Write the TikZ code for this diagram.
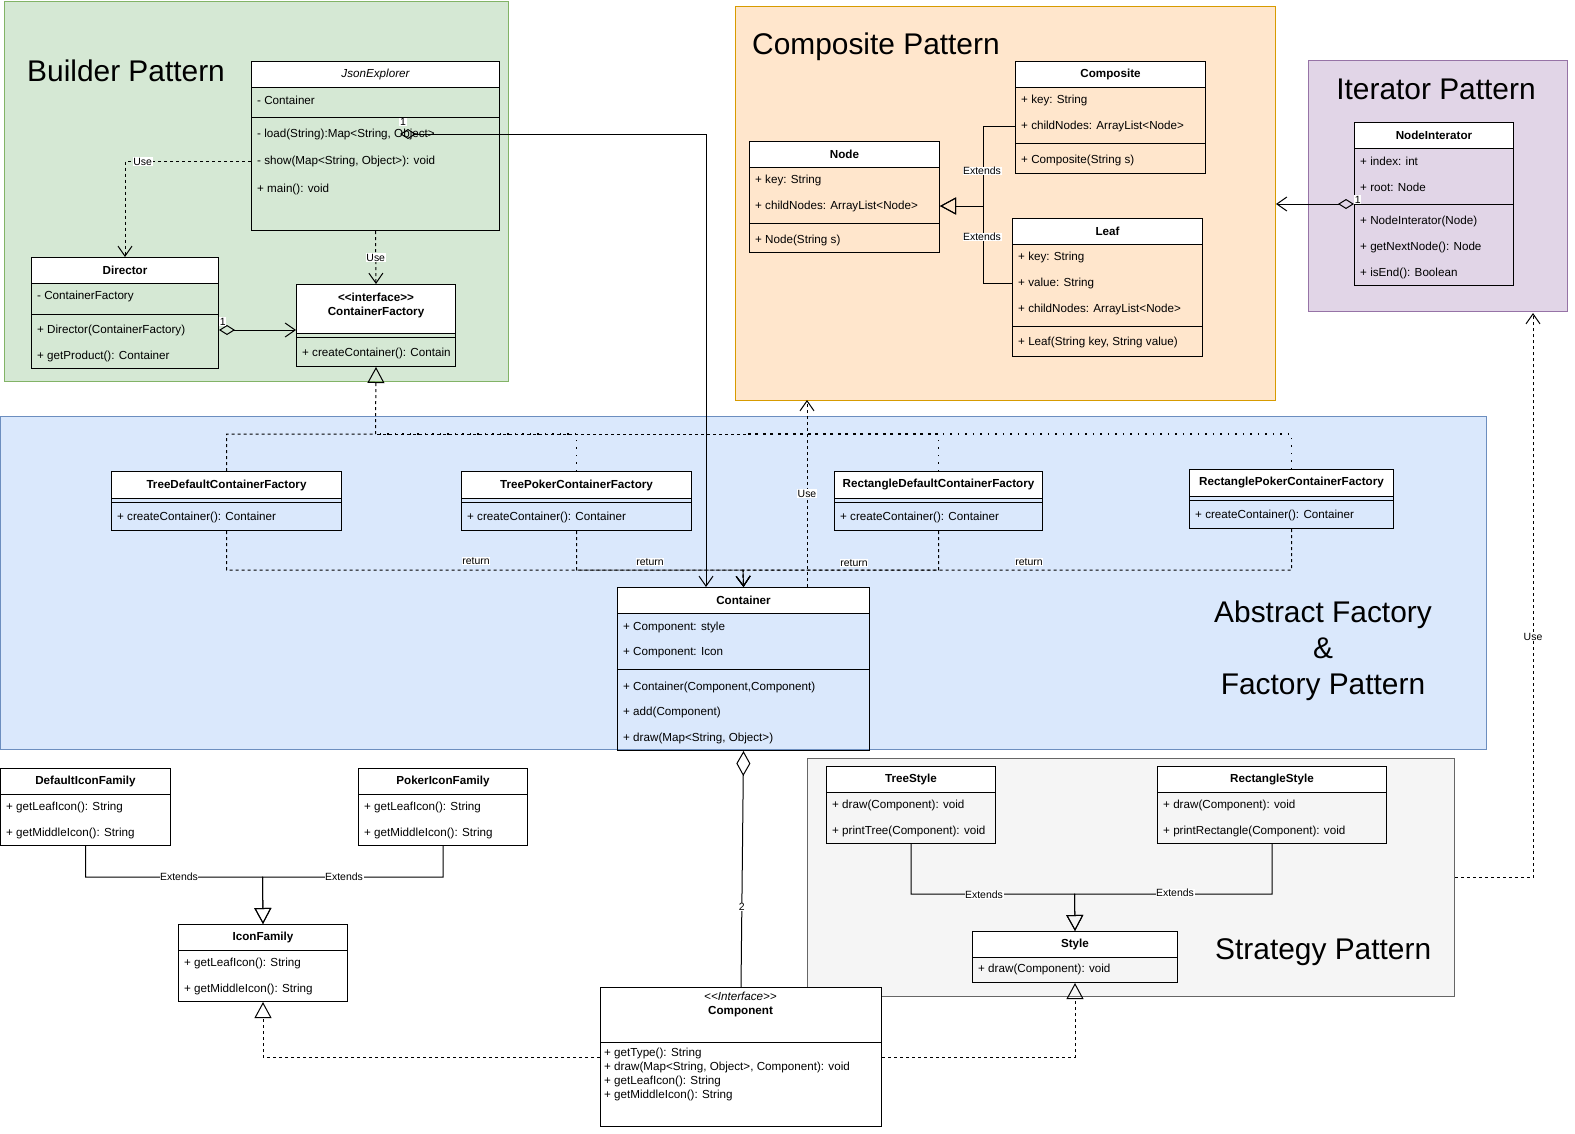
\documentclass[tikz,border=0pt]{standalone}
\usepackage{fontspec}
\setmainfont{Liberation Sans}
\usetikzlibrary{
		arrows.meta,
		positioning,
		calc
	}
\definecolor{buildfill}{HTML}{D5E8D4}	\definecolor{buildline}{HTML}{82B366}
\definecolor{compfill}{HTML}{FFE6CC}	\definecolor{compline}{HTML}{D79B00}
\definecolor{iterfill}{HTML}{E1D5E7}	\definecolor{iterline}{HTML}{9673A6}
\definecolor{factfill}{HTML}{DAE8FC}	\definecolor{factline}{HTML}{6C8EBF}
\definecolor{stratfill}{HTML}{F5F5F5}	\definecolor{stratline}{HTML}{666666}
\tikzset{
		every node/.style={font=\fontsize{11.7}{14}\selectfont},
		grp/.style={draw, line width=1bp, anchor=north west, inner sep=0pt},
		cls/.style={draw, line width=1bp, anchor=north west, inner sep=0pt},
		head/.style={draw, fill=white, line width=1bp, anchor=north west, inner sep=0pt, align=center, font=\fontsize{11.7}{14}\selectfont\bfseries},
		row/.style={anchor=west, inner sep=0pt},
		title/.style={inner sep=0pt, font=\fontsize{30}{36}\selectfont},
		lbl/.style={fill=white, inner sep=0.6pt, font=\fontsize{10.5}{12}\selectfont},
		link/.style={line width=1bp},
		use/.style={link, dash pattern=on 3bp off 3bp, -{Straight Barb[length=10bp,width=14bp]}},
		ret/.style={use},
		joinline/.style={link, dash pattern=on 3bp off 3bp},
		realize/.style={link, dash pattern=on 3bp off 3bp, -{Triangle[open,length=16bp,width=17bp]}},
		realdot/.style={line width=1.5bp, dash pattern=on 1.5bp off 6bp},
		ext/.style={link, -{Triangle[open,length=16bp,width=17bp]}},
		agg/.style={link, {Diamond[open,length=16bp,width=10bp]}-{Straight Barb[length=10bp,width=14bp]}},
		whole/.style={link, {Diamond[open,length=25bp,width=14bp]}-}
	}
% class box: [header height] name, corner, width, height, title
\newcommand{\umlclass}[6][26]{%
	\node[cls, minimum width=#4bp, minimum height=#5bp] (#2) at (#3) {};
	\node[head, minimum width=#4bp, minimum height=#1bp] (#2-h) at (#2.north west) {#6};
}
% member rows: prefix, x, first y, step, list
\newcommand{\classrows}[5]{%
	\foreach \rowtext [count=\i] in {#5} {
		\node[row] (#1\i) at ({#2},{#3+#4*(\i-1)}) {\rowtext};
	}
}

\begin{document}
\begin{tikzpicture}[x=1bp,y=-1bp]
		\useasboundingbox (0,0) rectangle (1575,1133);
		% Groups
		\node[grp, fill=buildfill, draw=buildline, minimum width=504bp, minimum height=380bp] (bgrp) at (4,0.5) {};
		\node[grp, fill=compfill, draw=compline, minimum width=540bp, minimum height=394bp] (cgrp) at (735,6) {};
		\node[grp, fill=iterfill, draw=iterline, minimum width=259bp, minimum height=251bp] (igrp) at (1308,60) {};
		\node[grp, fill=factfill, draw=factline, minimum width=1485.5bp, minimum height=333bp] (agrp) at (0.5,416) {};
		\node[grp, fill=stratfill, draw=stratline, minimum width=647bp, minimum height=238bp] (sgrp) at (807,758) {};
		% Titles
		\node[title, anchor=west] (bttl) at (27,71) {Builder Pattern};
		\node[title, anchor=west] (cttl) at (752,47) {Composite Pattern};
		\node[title] (ittl) at (1436,89) {Iterator Pattern};
		\node[title, align=center] (attl) at (1323,651) {Abstract Factory\\\&\\Factory Pattern};
		\node[title, anchor=west] (sttl) at (1215,952) {Strategy Pattern};
		% Builder classes
		\umlclass{je}{251,61}{248}{169}{{\mdseries\itshape JsonExplorer}}
		\draw[link] (251,117) -- ++(248,0);
		\classrows{je-a}{257}{100}{26}{{- Container}}
		\classrows{je-m}{257}{134}{27.5}{{- load(String):Map<String, Object>},{- show(Map<String, Object>): void},{+ main(): void}}
		\umlclass{dir}{31,257}{187}{111}{Director}
		\draw[link] (31,314) -- ++(187,0);
		\classrows{dir-a}{37}{296}{26}{{- ContainerFactory}}
		\classrows{dir-m}{37}{330}{26}{{+ Director(ContainerFactory)},{+ getProduct(): Container}}
		\umlclass[49]{cf}{296,284}{159}{82}{<\kern0pt<interface>\kern0pt>\\ContainerFactory\\[-5pt]}
		\draw[link] (296,337) -- ++(159,0);
		\classrows{cf-m}{302}{353}{26}{{+ createContainer(): Contain}}
		% Composite classes
		\umlclass{nd}{749,141}{190}{111}{Node}
		\draw[link] (749,223) -- ++(190,0);
		\classrows{nd-a}{755}{180}{26}{{+ key: String},{+ childNodes: ArrayList<Node>}}
		\classrows{nd-m}{755}{240}{26}{{+ Node(String s)}}
		\umlclass{comp}{1015,61}{190}{112}{Composite}
		\draw[link] (1015,143) -- ++(190,0);
		\classrows{comp-a}{1021}{100}{26}{{+ key: String},{+ childNodes: ArrayList<Node>}}
		\classrows{comp-m}{1021}{160}{26}{{+ Composite(String s)}}
		\umlclass{leaf}{1012,218}{190}{138}{Leaf}
		\draw[link] (1012,326) -- ++(190,0);
		\classrows{leaf-a}{1018}{257}{26}{{+ key: String},{+ value: String},{+ childNodes: ArrayList<Node>}}
		\classrows{leaf-m}{1018}{342}{26}{{+ Leaf(String key, String value)}}
		% Iterator class
		\umlclass{ni}{1354,122}{159}{163}{NodeInterator}
		\draw[link] (1354,204) -- ++(159,0);
		\classrows{ni-a}{1360}{161}{26}{{+ index: int},{+ root: Node}}
		\classrows{ni-m}{1360}{221}{26}{{+ NodeInterator(Node)},{+ getNextNode(): Node},{+ isEnd(): Boolean}}
		% Factories
		\umlclass[27]{tdcf}{111,471}{230}{59}{TreeDefaultContainerFactory}
		\draw[link] (111,502) -- ++(230,0);
		\classrows{tdcf-m}{117}{517}{26}{{+ createContainer(): Container}}
		\umlclass[27]{tpcf}{461,471}{230}{59}{TreePokerContainerFactory}
		\draw[link] (461,502) -- ++(230,0);
		\classrows{tpcf-m}{467}{517}{26}{{+ createContainer(): Container}}
		\umlclass[27]{rdcf}{834,471}{208}{59}{RectangleDefaultContainerFactory}
		\draw[link] (834,502) -- ++(208,0);
		\classrows{rdcf-m}{840}{517}{26}{{+ createContainer(): Container}}
		\umlclass[27]{rpcf}{1189,469}{204}{59}{RectanglePokerContainerFactory}
		\draw[link] (1189,500) -- ++(204,0);
		\classrows{rpcf-m}{1195}{515}{26}{{+ createContainer(): Container}}
		\umlclass{con}{617,587}{252}{163}{Container}
		\draw[link] (617,669) -- ++(252,0);
		\classrows{con-a}{623}{627}{26}{{+ Component: style},{+ Component: Icon}}
		\classrows{con-m}{623}{687}{25.5}{{+ Container(Component,Component)},{+ add(Component)},{+ draw(Map<String, Object>)}}
		% Icon families
		\umlclass{dif}{0.5,768}{169}{77}{DefaultIconFamily}
		\classrows{dif-m}{6}{807}{26}{{+ getLeafIcon(): String},{+ getMiddleIcon(): String}}
		\umlclass{pif}{358,768}{169}{77}{PokerIconFamily}
		\classrows{pif-m}{364}{807}{26}{{+ getLeafIcon(): String},{+ getMiddleIcon(): String}}
		\umlclass{icf}{178,924}{169}{77}{IconFamily}
		\classrows{icf-m}{184}{963}{26}{{+ getLeafIcon(): String},{+ getMiddleIcon(): String}}
		% Strategy classes
		\umlclass{ts}{826,766}{169}{77}{TreeStyle}
		\classrows{ts-m}{832}{805}{26}{{+ draw(Component): void},{+ printTree(Component): void}}
		\umlclass{rs}{1157,766}{229}{77}{RectangleStyle}
		\classrows{rs-m}{1163}{805}{26}{{+ draw(Component): void},{+ printRectangle(Component): void}}
		\umlclass{sty}{972,931}{205}{51}{Style}
		\classrows{sty-m}{978}{969}{26}{{+ draw(Component): void}}
		% Component
		\node[cls, fill=white, minimum width=281bp, minimum height=139bp] (cmp) at (600,987) {};
		\node[head, minimum width=281bp, minimum height=55bp] (cmp-h) at (cmp.north west) {};
		\node[align=center, inner sep=0pt] (cmp-t) at (740.5,1004) {{\itshape <\kern0pt<Interface>\kern0pt>}\\\bfseries Component};
		\classrows{cmp-m}{604}{1053}{14.3}{{+ getType(): String},{+ draw(Map<String, Object>, Component): void},{+ getLeafIcon(): String},{+ getMiddleIcon(): String}}
		% Builder links
		\draw[use] (je.west |- je-m2) -| node[lbl, pos=0.43] (u1) {Use} (dir.north);
		\draw[use] (je.south) -- node[lbl] (u2) {Use} (cf.north);
		\draw[agg] (dir.east |- dir-m1) -- (cf.west |- dir-m1);
		\node[lbl, anchor=south west, yshift=4bp] (n1) at (dir.east |- dir-m1) {1};
		\coordinate (je-o) at (400,134);
		\coordinate (con-i) at (706,587);
		\draw[agg] (je-o) -| (con-i);
		\node[lbl] (n2) at (403,122) {1};
		% Composite links
		\coordinate (nd-j) at (983,206);
		\draw[ext] (comp.west |- comp-a2) -| (nd-j) -- (nd.east |- nd-j);
		\draw[ext] (leaf.west |- leaf-a2) -| (nd-j) -- (nd.east |- nd-j);
		\node[lbl] (e1) at (982,171) {Extends};
		\node[lbl] (e2) at (982,237) {Extends};
		% Iterator link
		\draw[agg] (ni.west) -- (cgrp.east |- ni.west);
		\node[lbl, anchor=south west] (n3) at (ni.west) {1};
		% Factory links
		\coordinate (cf-j) at (375.5,434);
		\coordinate (rf-j) at (746,434);
		\draw[realize] (tdcf.north) |- (cf-j) -- (cf.south);
		\draw[realdot] (tpcf.north) |- (cf-j);
		\draw[realdot] (rdcf.north) |- (rf-j);
		\draw[realdot] (rpcf.north) |- (rf-j);
		\draw[joinline] (rf-j) -- (cf-j);
		\coordinate (con-r) at (743,570);
		\draw[ret] (tdcf.south) |- (con-r) -- (con.north);
		\draw[ret] (tpcf.south) |- (con-r) -- (con.north);
		\draw[ret] (rdcf.south) |- (con-r) -- (con.north);
		\draw[ret] (rpcf.south) |- (con-r) -- (con.north);
		\node[lbl] (r1) at (476,561) {return};
		\node[lbl] (r2) at (650,562) {return};
		\node[lbl] (r3) at (854,563) {return};
		\node[lbl] (r4) at (1029,562) {return};
		\coordinate (cgrp-u) at (807,400);
		\draw[use] (con.north -| cgrp-u) -- node[lbl] (u3) {Use} (cgrp-u);
		\draw[whole] (con.south) -- node[lbl, pos=0.66] (n4) {2} (cmp.north);
		% Icon links
		\coordinate (icf-j) at (262.5,877);
		\draw[ext] (dif.south) |- (icf-j) -- (icf.north);
		\draw[ext] (pif.south) |- (icf-j) -- (icf.north);
		\node[lbl] (e3) at (179,877) {Extends};
		\node[lbl] (e4) at (344,877) {Extends};
		% Strategy links
		\coordinate (sty-j) at (1074.5,894);
		\draw[ext] (ts.south) |- (sty-j) -- (sty.north);
		\draw[ext] (rs.south) |- (sty-j) -- (sty.north);
		\node[lbl] (e5) at (984,895) {Extends};
		\node[lbl] (e6) at (1175,893) {Extends};
		\coordinate (igrp-u) at (1533,313);
		\draw[use] (sgrp.east) -| (igrp-u);
		\node[lbl] (u4) at (1533,637) {Use};
		% Component links
		\draw[realize] (cmp.west) -| (icf.south);
		\draw[realize] (cmp.east) -| (sty.south);
	\end{tikzpicture}
\end{document}
